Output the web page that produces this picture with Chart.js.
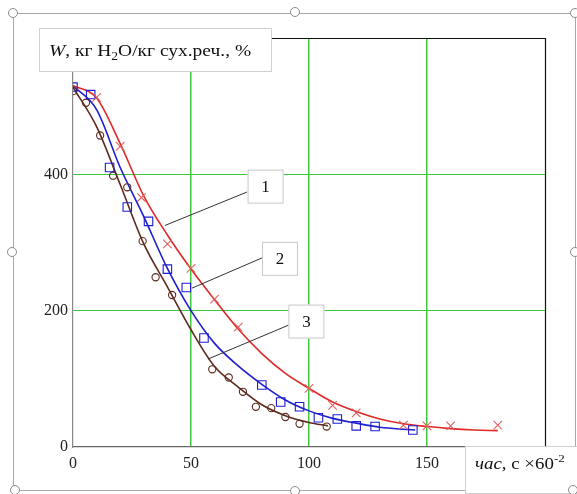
<!DOCTYPE html>
<html>
<head>
<meta charset="utf-8">
<script src="https://cdn.jsdelivr.net/npm/chart.js@4/dist/chart.umd.min.js"></script>
<style>
  html, body { margin: 0; padding: 0; background: #fff; }
  canvas { display: block; }
</style>
</head>
<body>
<canvas id="dryChart" width="577" height="494"></canvas>
<script>
// ----- DATA -----
// fitted curves
const fit1X = [0, 10, 20, 30, 40, 50, 60, 70, 80, 90, 100, 110, 120, 130, 140, 150, 160, 170, 180]
const fit1W = [530, 512, 445, 368, 311, 261, 216, 173, 137, 108, 86, 66, 52, 41, 34, 30, 27, 25, 24]
const fit2X = [0, 10, 20, 30, 40, 50, 60, 70, 80, 90, 100, 110, 120, 130, 140, 145]
const fit2W = [530, 495, 410, 338, 262, 200, 152, 119, 92, 69, 53, 42, 35, 29, 26, 25]
const fit3X = [0, 10, 20, 30, 40, 50, 60, 70, 80, 90, 100, 108]
const fit3W = [528, 470, 385, 298, 235, 172, 118, 88, 62, 46, 36, 31]

// measured points
const pts1X = [10, 20, 29, 40, 50, 60, 70, 100, 110, 120, 140, 150, 160, 180]
const pts1W = [513, 441, 366, 298, 262, 217, 176, 86, 61, 50, 32, 31, 31, 32]
const pts2X = [0, 7.5, 15.5, 23, 32, 40, 48, 55.5, 80, 88, 96, 104, 112, 120, 128, 144]
const pts2W = [528, 517, 410, 352, 331, 261, 234, 160, 91, 66, 59, 43, 41, 31, 30, 25]
const pts3X = [0, 5.5, 11.5, 17, 23, 29.5, 35, 42, 59, 66, 72, 77.5, 84, 90, 96, 107.5]
const pts3W = [522, 505, 457, 398, 381, 302, 249, 223, 114, 102, 81, 59, 57, 44, 34, 30]

const xTicks = [0, 50, 100, 150]
const yTicks = [0, 200, 400]

// curve labels: box centre, leader start, leader end (data units)
const notes = [
  { text: '1', box: [81.6, 382], from: [73.7, 374], to: [39, 325] },
  { text: '2', box: [87.7, 276], from: [80.5, 278], to: [50.4, 233] },
  { text: '3', box: [98.9, 184], from: [91.5, 179], to: [57.2, 129] },
]

const RED = '#e02828'
const BLUE = '#1e1ed2'
const BROWN = '#5e2a1e'
const GREEN = '#3ec83e'
const NONE = 'rgba(0,0,0,0)'
const SERIF = '"Liberation Serif", "Times New Roman", serif'

const toXY = (xs, ys) => xs.map((x, i) => ({ x, y: ys[i] }))

function curve(xs, ys, color) {
  return {
    data: toXY(xs, ys),
    showLine: true,
    borderColor: color,
    borderWidth: 1.6,
    pointRadius: 0,
    cubicInterpolationMode: 'monotone',
  }
}

function markers(xs, ys, color, style, r) {
  return {
    data: toXY(xs, ys),
    showLine: false,
    pointStyle: style,
    pointRadius: r,
    borderColor: color,
    backgroundColor: 'rgba(0,0,0,0)',
    pointBorderWidth: 1.1,
  }
}

// ----- DECORATION -----
function box(ctx, x1, y1, x2, y2, stroke) {
  ctx.fillStyle = '#fff'
  ctx.fillRect(x1, y1, x2 - x1, y2 - y1)
  ctx.strokeStyle = stroke
  ctx.lineWidth = 1
  ctx.strokeRect(x1 + 0.5, y1 + 0.5, x2 - x1 - 1, y2 - y1 - 1)
}

// draws runs of [text, style, baseline shift, size], stretched by sx
function richText(ctx, parts, x, y, sx) {
  ctx.save()
  ctx.translate(x, y)
  ctx.scale(sx, 1)
  ctx.fillStyle = '#111'
  ctx.textBaseline = 'alphabetic'
  ctx.textAlign = 'left'
  let cx = 0
  parts.forEach(([t, style, dy, size]) => {
    ctx.font = `${style} ${size}px ${SERIF}`
    ctx.fillText(t, cx, dy)
    cx += ctx.measureText(t).width
  })
  ctx.restore()
}

const decor = {
  id: 'decor',
  afterDraw(chart) {
    const { ctx, chartArea: a, scales } = chart
    const px = (p) => [scales.x.getPixelForValue(p[0]), scales.y.getPixelForValue(p[1])]
    ctx.save()

    // top and right border of the plot
    ctx.strokeStyle = '#111'
    ctx.lineWidth = 1.2
    ctx.beginPath()
    ctx.moveTo(a.left, a.top + 0.5)
    ctx.lineTo(a.right + 0.5, a.top + 0.5)
    ctx.lineTo(a.right + 0.5, a.bottom)
    ctx.stroke()

    // curve labels
    notes.forEach((n) => {
      const [fx, fy] = px(n.from)
      const [tx, ty] = px(n.to)
      ctx.strokeStyle = '#333'
      ctx.lineWidth = 1
      ctx.beginPath()
      ctx.moveTo(fx, fy)
      ctx.lineTo(tx, ty)
      ctx.stroke()
      const [cx, cy] = px(n.box)
      box(ctx, cx - 18, cy - 17, cx + 18, cy + 17, '#c8c8c8')
      ctx.fillStyle = '#111'
      ctx.font = `17px ${SERIF}`
      ctx.textAlign = 'center'
      ctx.textBaseline = 'middle'
      ctx.fillText(n.text, cx, cy + 1)
    })

    // outer frame
    ctx.strokeStyle = '#a8a8a8'
    ctx.lineWidth = 1
    ctx.strokeRect(13.5, 13.5, 562, 477)

    // axis titles
    box(ctx, 39, 28, 272, 72, '#d0d0d0')
    richText(ctx, [
      ['W', 'italic', 0, 16.5],
      [', кг H', 'normal', 0, 16.5],
      ['2', 'normal', 4, 11.5],
      ['O/кг сух.реч., %', 'normal', 0, 16.5],
    ], 49, 56, 1.18)

    box(ctx, 465, 446, 580, 494, '#d0d0d0')
    richText(ctx, [
      ['час', 'italic', 0, 16],
      [', с ×60', 'normal', 0, 16],
      ['-2', 'normal', -7, 11],
    ], 475, 469, 1.18)

    // selection handles
    const handles = [[13, 13], [295, 12], [575, 13], [12, 252], [575, 252], [15, 490], [295, 491], [573, 490]]
    handles.forEach(([hx, hy]) => {
      ctx.beginPath()
      ctx.arc(hx, hy, 4.5, 0, Math.PI * 2)
      ctx.fillStyle = '#fff'
      ctx.fill()
      ctx.strokeStyle = '#8a8a8a'
      ctx.stroke()
    })

    ctx.restore()
  },
}

// ----- CHART -----
// green inner grid; the lines at both ends sit under axis / frame
const gridColors = (n) => Array.from({ length: n }, (_, i) => (i === 0 || i === n - 1 ? NONE : GREEN))

const chart = new Chart(document.getElementById('dryChart').getContext('2d'), {
  type: 'scatter',
  data: {
    datasets: [
      markers(pts1X, pts1W, '#e06060', 'crossRot', 6),
      markers(pts2X, pts2W, BLUE, 'rect', 6),
      markers(pts3X, pts3W, BROWN, 'circle', 3.6),
      curve(fit1X, fit1W, RED),
      curve(fit2X, fit2W, BLUE),
      curve(fit3X, fit3W, BROWN),
    ],
  },
  options: {
    responsive: false,
    animation: false,
    layout: { padding: { left: 0, top: 38, right: 32, bottom: 0 } },
    plugins: { legend: { display: false }, tooltip: { enabled: false } },
    scales: {
      x: {
        type: 'linear',
        min: 0,
        max: 200,
        afterBuildTicks: (s) => { s.ticks = xTicks.concat([200]).map((v) => ({ value: v })) },
        afterFit: (s) => { s.height = 47 },
        ticks: {
          padding: 7,
          color: '#222',
          font: { family: SERIF, size: 16 },
          callback: (v) => (xTicks.includes(v) ? v : ''),
        },
        grid: { color: gridColors(xTicks.length + 1), drawTicks: false, lineWidth: 1.5 },
        border: { color: '#666', width: 1.2 },
      },
      y: {
        type: 'linear',
        min: 0,
        max: 600,
        afterBuildTicks: (s) => { s.ticks = yTicks.concat([600]).map((v) => ({ value: v })) },
        afterFit: (s) => { s.width = 73 },
        ticks: {
          padding: 5,
          color: '#222',
          font: { family: SERIF, size: 16 },
          callback: (v) => (yTicks.includes(v) ? v : ''),
        },
        grid: { color: gridColors(yTicks.length + 1), drawTicks: false, lineWidth: 1 },
        border: { color: '#888', width: 1.2 },
      },
    },
  },
  plugins: [decor],
})
</script>
</body>
</html>
